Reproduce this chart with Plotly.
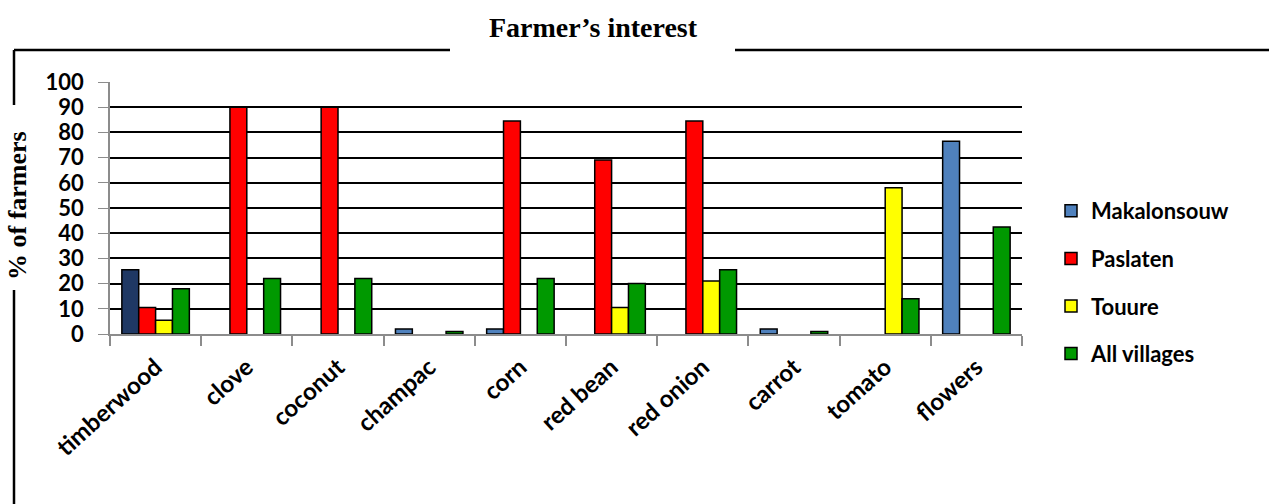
import plotly.graph_objects as go

categories = ["timberwood", "clove", "coconut", "champac", "corn",
              "red bean", "red onion", "carrot", "tomato", "flowers"]
makalonsouw = [25.5, None, None, 2, 2, None, None, 2, None, 76.5]
paslaten = [10.5, 90, 90, None, 84.5, 69, 84.5, None, None, None]
touure = [5.5, None, None, None, None, 10.5, 21, None, 58, None]
all_villages = [18, 22, 22, 1, 22, 20, 25.5, 1, 14, 42.5]
y_ticks = [0, 10, 20, 30, 40, 50, 60, 70, 80, 90, 100]

W, H = 1269, 504
L, R, T, B = 110, 1022, 82, 334

def px(x):
    return (x - L) / (R - L)

def py(y):
    return (B - y) / (B - T)

mak_colors = ["#1F3864"] + ["#4F81BD"] * (len(categories) - 1)

fig = go.Figure()
# Makalonsouw: real bars (first one darker) plus a legend-only twin sharing its slot
fig.add_trace(go.Bar(
    x=categories, y=makalonsouw, name="Makalonsouw", offsetgroup="mak",
    marker=dict(color=mak_colors, line=dict(color="black", width=1.5)),
    showlegend=False, legendgroup="mak",
))
fig.add_trace(go.Bar(
    x=categories, y=[None] * len(categories), name="Makalonsouw", offsetgroup="mak",
    marker=dict(color="#4F81BD", line=dict(color="black", width=1.5)),
    showlegend=True, legendgroup="mak",
))
for name, vals, col, grp in [("Paslaten", paslaten, "#FF0000", "pas"),
                             ("Touure", touure, "#FFFF00", "tou"),
                             ("All villages", all_villages, "#009900", "all")]:
    fig.add_trace(go.Bar(
        x=categories, y=vals, name=name, offsetgroup=grp,
        marker=dict(color=col, line=dict(color="black", width=1.5)),
        legendgroup=grp,
    ))

fig.update_layout(
    width=W, height=H,
    margin=dict(l=L, r=W - R, t=T, b=H - B),
    paper_bgcolor="white", plot_bgcolor="white",
    barmode="group", bargap=0.26, bargroupgap=0,
    font=dict(family="Lato", color="black"),
    showlegend=True,
    legend=dict(
        x=px(1051), y=py(190), xanchor="left", yanchor="top",
        font=dict(family="Lato", size=22, color="black", weight="bold"),
        tracegroupgap=16, itemwidth=30, bgcolor="rgba(0,0,0,0)",
    ),
    xaxis=dict(
        showgrid=False, showline=True, linecolor="#8c8c8c", linewidth=1.5,
        ticks="outside", tickson="boundaries", ticklen=10, tickcolor="#8c8c8c",
        tickwidth=1.5, tickangle=-42, ticklabelstandoff=8,
        tickfont=dict(family="Lato", size=24, color="black", weight="bold"),
    ),
    yaxis=dict(
        range=[0, 100], tickvals=y_ticks, showgrid=True, gridcolor="black",
        gridwidth=1.5, zeroline=False, showline=True, linecolor="#8c8c8c",
        linewidth=1.5, ticks="outside", ticklen=10, tickcolor="#8c8c8c",
        ticklabelstandoff=10,
        tickfont=dict(family="Lato", size=22, color="black", weight="bold"),
    ),
)

fig.add_annotation(
    text="<b>Farmer’s interest</b>", xref="paper", yref="paper",
    x=px(593), y=py(27), xanchor="center", yanchor="middle", showarrow=False,
    font=dict(family="Liberation Serif", size=28, color="black"),
)
fig.add_annotation(
    text="<b>% of farmers</b>", xref="paper", yref="paper",
    x=px(17), y=py(206), xanchor="center", yanchor="middle", showarrow=False,
    textangle=-90,
    font=dict(family="Liberation Serif", size=26, color="black"),
)

line = dict(color="black", width=2.5)
for x0, y0, x1, y1 in [(14, 50, 450, 50), (735, 50, 1269, 50),
                       (14, 50, 14, 105), (14, 290, 14, 504)]:
    fig.add_shape(type="line", xref="paper", yref="paper",
                  x0=px(x0), y0=py(y0), x1=px(x1), y1=py(y1), line=line)

fig.write_html("out.html")
